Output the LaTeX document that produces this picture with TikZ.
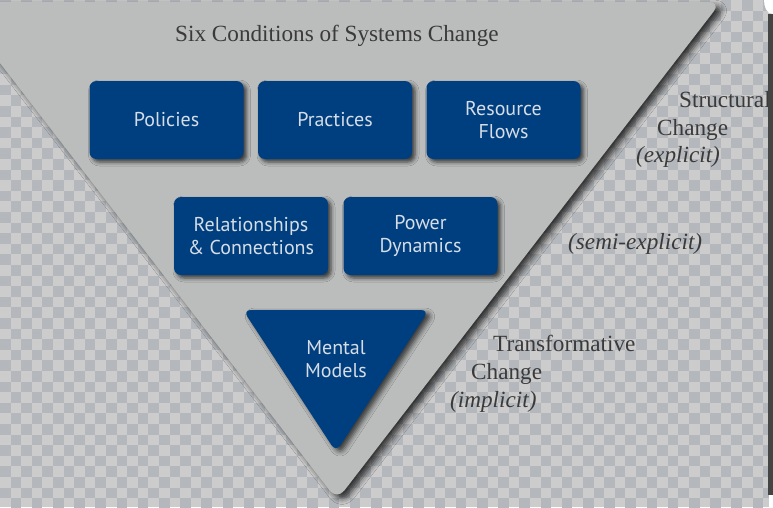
\documentclass[tikz,border=0pt]{standalone}
\usepackage{fontspec}
\setmainfont{Liberation Serif}
\setsansfont{PT Sans}
\usepackage{tikz}
\usetikzlibrary{shadows.blur}
\definecolor{BoxBlue}{RGB}{0, 63, 127}
\definecolor{BoxText}{RGB}{214, 221, 230}
\definecolor{PanelGray}{RGB}{187, 188, 188}
\definecolor{CheckLight}{RGB}{204, 204, 204}
\definecolor{CheckDark}{RGB}{180, 184, 188}
\definecolor{LabelGray}{RGB}{58, 58, 58}
\definecolor{EdgeDark}{RGB}{68, 68, 68}

\begin{document}
\begin{tikzpicture}[x=1pt, y=-1pt,
  bx/.style={rectangle, rounded corners=7pt, fill=BoxBlue,
             minimum width=154pt, minimum height=78pt, text=BoxText,
             align=center, font=\sffamily\fontsize{20}{22.5}\selectfont,
             blur shadow={shadow xshift=3pt, shadow yshift=-3pt,
                          shadow blur radius=4pt, shadow opacity=70}},
  lbl/.style={anchor=base west, inner sep=0pt, text=LabelGray,
              font=\fontsize{23.2}{27}\selectfont}
]
  \useasboundingbox (0,0) rectangle (773,507);
  \clip (0,0) rectangle (773,507);
  % checkered background
  \fill[CheckLight] (0,0) rectangle (773,507);
  \foreach \i in {0,...,72} {
    \pgfmathtruncatemacro{\off}{mod(\i,2)}
    \foreach \j in {0,2,...,48}
      \fill[CheckDark] (\i*10.6,{(\j+\off)*10.6}) rectangle ++(10.6,10.6);
  }
  % big panel
  \fill[PanelGray, rounded corners=12pt,
        blur shadow={shadow xshift=5pt, shadow yshift=-4pt,
                     shadow blur radius=6pt, shadow opacity=75}]
    (-47,2) -- (721,2) -- (337,500) -- cycle;
  \node[lbl] (title) at (175,41) {Six Conditions of Systems Change};
  % condition boxes
  \node[bx] (policies)  at (166.5,120) {Policies};
  \node[bx] (practices) at (335,120)   {Practices};
  \node[bx] (resources) at (503.5,120) {Resource\\Flows};
  \node[bx] (relations) at (251,236)   {Relationships\\\& Connections};
  \node[bx] (power)     at (420.5,236) {Power\\Dynamics};
  \fill[BoxBlue, rounded corners=8pt,
        blur shadow={shadow xshift=4pt, shadow yshift=-3pt,
                     shadow blur radius=5pt, shadow opacity=70}]
    (243,310) -- (429,310) -- (336,452) -- cycle;
  \node[text=BoxText, align=center, font=\sffamily\fontsize{20}{22.5}\selectfont]
    (mental) at (336,359) {Mental\\Models};
  % side labels
  \node[lbl] (structural) at (679,107) {Structural};
  \node[lbl] (change1)    at (657,135) {Change};
  \node[lbl] (explicit)   at (636,162) {\itshape (explicit)};
  \node[lbl] (semi)       at (568,249) {\itshape (semi-explicit)};
  \node[lbl] (transform)  at (493,351) {Transformative};
  \node[lbl] (change2)    at (471,379) {Change};
  \node[lbl] (implicit)   at (450,407) {\itshape (implicit)};
  % right border strip
  \fill[EdgeDark] (768,14) rectangle (773,495);
  \fill[white] (773,0) -- (764,0) to[out=-90,in=180] (773,14) -- cycle;
  \fill[white] (769,495) rectangle (773,507);
\end{tikzpicture}
\end{document}
